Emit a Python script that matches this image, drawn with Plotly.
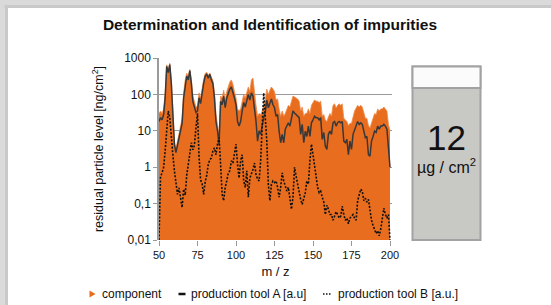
import plotly.graph_objects as go

# ---------------- data ----------------
MZ = list(range(50, 201))

COMPONENT = [
    30, 35, 30, 40, 110, 650, 480, 720, 260, 30,          # 50-59
    5, 3.2, 5, 8.5, 12, 22, 110, 250, 380, 320,           # 60-69
    480, 260, 90, 60, 45, 48, 110, 80, 170, 260,          # 70-79
    380, 400, 330, 390, 300, 240, 110, 28, 15, 7,         # 80-89
    90, 80, 130, 70, 120, 170, 220, 250, 190, 120,        # 90-99
    80, 40, 35, 40, 60, 100, 80, 120, 160, 120,           # 100-109
    250, 280, 100, 50, 25, 30, 28, 35, 50, 70,            # 110-119
    140, 100, 130, 160, 140, 120, 70, 75, 40, 25,         # 120-129
    35, 25, 30, 40, 50, 45, 65, 90, 85, 80,               # 130-139
    75, 65, 35, 45, 25, 30, 30, 40, 30, 50,               # 140-149
    60, 70, 65, 65, 60, 65, 25, 28, 20, 18,               # 150-159
    24, 30, 25, 50, 55, 42, 50, 55, 50, 55,               # 160-169
    22, 20, 18, 14, 16, 16, 24, 35, 42, 50,               # 170-179
    45, 50, 45, 30, 22, 22, 14, 12, 16, 22,               # 180-189
    30, 28, 40, 35, 40, 40, 45, 40, 35, 15,               # 190-199
    10,                                                   # 200
]

TOOL_A = [
    18, 23, 20, 28, 80, 590, 400, 660, 200, 20,           # 50-59
    4.3, 2.5, 4, 6.3, 9, 16, 80, 200, 320, 250,           # 60-69
    450, 200, 63, 45, 32, 35, 80, 56, 126, 200,           # 70-79
    320, 355, 280, 355, 250, 200, 80, 18, 10, 4.3,        # 80-89
    65, 52, 89, 43, 80, 110, 140, 160, 120, 80,           # 90-99
    52, 18, 13.5, 18, 35, 60, 45, 70, 100, 70,            # 100-109
    110, 90, 43, 18, 5.2, 10, 8, 15, 23, 32,              # 110-119
    70, 43, 60, 75, 52, 43, 25, 28, 9.8, 4.7,             # 120-129
    8, 4.7, 11, 13.5, 16.6, 13.5, 23, 35, 31, 28,         # 130-139
    25, 23, 8, 15, 4.7, 9.8, 7, 13.5, 7, 16.6,            # 140-149
    20, 25, 23, 23, 20, 23, 5.8, 9, 3.8, 3.1,             # 150-159
    8, 9.8, 8, 16.6, 18, 13.5, 16.6, 18, 16.6, 18,        # 160-169
    5.2, 4.7, 5.8, 2.2, 5.2, 3.1, 8, 11, 13.5, 18,        # 170-179
    15, 16.6, 15, 9.8, 6.5, 7, 2.2, 2.0, 5.2, 7,          # 180-189
    9.8, 9, 13.5, 11, 13.5, 13.5, 15, 13.5, 11, 3.4,      # 190-199
    1.0,                                                  # 200
]

TOOL_B = [
    0.01, 0.55, 0.7, 1.0, 2.8, 12, 35, 23, 6, 2.2,        # 50-59
    0.8, 0.4, 0.18, 0.27, 0.15, 0.078, 0.25, 0.17, 0.6, 1.2,  # 60-69
    2.5, 4.7, 3.0, 4.0, 12, 30, 2.0, 0.45, 0.35, 0.18,    # 70-79
    0.4, 0.6, 1.2, 1.6, 1.8, 2.8, 3.4, 2.2, 4.3, 6.5,     # 80-89
    1.2, 0.18, 0.12, 0.28, 0.42, 0.7, 0.8, 1.5, 1.3, 2.2, # 90-99
    4.3, 1.2, 0.5, 1.5, 2.2, 0.42, 0.28, 0.8, 0.15, 0.5,  # 100-109
    0.63, 0.87, 1.3, 0.63, 0.47, 0.42, 1.5, 18, 110, 23,  # 110-119
    5.2, 0.34, 0.12, 0.34, 0.42, 0.38, 0.42, 0.28, 0.15, 0.28,  # 120-129
    0.7, 0.42, 0.3, 0.22, 0.28, 0.12, 0.07, 0.15, 1.0, 0.57,    # 130-139
    0.34, 0.18, 0.13, 0.095, 0.15, 0.2, 0.42, 0.34, 1.5, 4.3,   # 140-149
    2.2, 1.0, 0.5, 0.28, 0.2, 0.22, 0.15, 0.11, 0.05, 0.09,     # 150-159
    0.07, 0.05, 0.05, 0.035, 0.045, 0.06, 0.05, 0.04, 0.045, 0.085,  # 160-169
    0.05, 0.035, 0.04, 0.028, 0.04, 0.045, 0.05, 0.04, 0.035, 0.12,  # 170-179
    0.18, 0.25, 0.22, 0.12, 0.14, 0.11, 0.13, 0.06, 0.035, 0.025,    # 180-189
    0.02, 0.015, 0.018, 0.013, 0.02, 0.04, 0.075, 0.05, 0.04, 0.05,  # 190-199
    0.01,                                                            # 200
]

BASELINE_X = [50, 200]
BASELINE_Y = [0.005, 0.005]

Y_TICKS = [0.01, 0.1, 1, 10, 100, 1000]
Y_TICK_TEXT = ["0,01", "0,1", "1", "10", "100", "1000"]
X_TICKS = [50, 75, 100, 125, 150, 175, 200]

TITLE = "Determination and Identification of impurities"
Y_TITLE = "residual particle level [ng/cm<sup>2</sup>]"
X_TITLE = "m / z"
LEGEND_LABELS = ["component", "production tool A [a.u]", "production tool B [a.u.]"]
TOTAL_VALUE = "12"
TOTAL_UNIT = "µg / cm<sup>2</sup>"

ORANGE = "#e96d1f"
FONT = "Liberation Sans, Arial, Helvetica, sans-serif"

# ---------------- figure ----------------
fig = go.Figure()
fig.add_trace(go.Scatter(x=BASELINE_X, y=BASELINE_Y, mode="lines",
                         line=dict(width=0, color=ORANGE), showlegend=False,
                         hoverinfo="skip"))
fig.add_trace(go.Scatter(x=MZ, y=COMPONENT, mode="lines", name=LEGEND_LABELS[0],
                         fill="tonexty", fillcolor=ORANGE,
                         line=dict(width=0.8, color="#ef8a4a"), showlegend=False))
fig.add_trace(go.Scatter(x=MZ, y=TOOL_A, mode="lines", name=LEGEND_LABELS[1],
                         line=dict(width=1.5, color="#383838"), showlegend=False))
fig.add_trace(go.Scatter(x=MZ, y=TOOL_B, mode="lines", name=LEGEND_LABELS[2],
                         line=dict(width=1.6, color="#111111", dash="2px,1.6px"),
                         showlegend=False))

L, R, T, B = 159, 159, 58, 65
W, H = 551, 305
PW, PH = W - L - R, H - T - B


def px(X):
    return (X - L) / PW


def py(Y):
    return (H - B - Y) / PH


shapes = []
# page frame (top and left edges)
shapes.append(dict(type="rect", xref="paper", yref="paper", x0=px(-2), x1=px(W + 2),
                   y0=py(5), y1=py(-2), fillcolor="#dadada", line=dict(width=0), layer="above"))
shapes.append(dict(type="rect", xref="paper", yref="paper", x0=px(-2), x1=px(4.5),
                   y0=py(H + 2), y1=py(-2), fillcolor="#dadada", line=dict(width=0), layer="above"))
shapes.append(dict(type="rect", xref="paper", yref="paper", x0=px(4.5), x1=px(W + 2),
                   y0=py(8), y1=py(5), fillcolor="#c9c9c9", line=dict(width=0), layer="above"))
shapes.append(dict(type="rect", xref="paper", yref="paper", x0=px(4.5), x1=px(8),
                   y0=py(H + 2), y1=py(5), fillcolor="#c9c9c9", line=dict(width=0), layer="above"))
# total box
shapes.append(dict(type="rect", xref="paper", yref="paper", x0=px(412.5), x1=px(480.5),
                   y0=py(240), y1=py(66.5), fillcolor="#c8c8c4",
                   line=dict(width=2, color="#a2a2a2"), layer="above"))
shapes.append(dict(type="rect", xref="paper", yref="paper", x0=px(412.5), x1=px(480.5),
                   y0=py(88), y1=py(66.5), fillcolor="#fbfbfb",
                   line=dict(width=2, color="#a2a2a2"), layer="above"))
# legend symbols
shapes.append(dict(type="path", xref="paper", yref="paper",
                   path=f"M {px(89.5)},{py(290.5)} L {px(95.5)},{py(294)} L {px(89.5)},{py(297.5)} Z",
                   fillcolor=ORANGE, line=dict(width=0), layer="above"))
shapes.append(dict(type="line", xref="paper", yref="paper", x0=px(178.5), x1=px(185.5),
                   y0=py(294), y1=py(294), line=dict(width=2.5, color="#111111"), layer="above"))
shapes.append(dict(type="line", xref="paper", yref="paper", x0=px(323), x1=px(332),
                   y0=py(294), y1=py(294), line=dict(width=1.5, color="#111111", dash="1.5px,1.5px"),
                   layer="above"))

annotations = [
    dict(text=TOTAL_VALUE, xref="paper", yref="paper", x=px(446.5), y=py(137), showarrow=False,
         font=dict(size=35, color="#111111", family=FONT), xanchor="center", yanchor="middle"),
    dict(text=TOTAL_UNIT, xref="paper", yref="paper", x=px(446.5), y=py(166), showarrow=False,
         font=dict(size=16, color="#111111", family=FONT), xanchor="center", yanchor="middle"),
    dict(text=LEGEND_LABELS[0], xref="paper", yref="paper", x=px(99.5), y=py(294), showarrow=False,
         font=dict(size=12, color="#111111", family=FONT), xanchor="left", yanchor="middle"),
    dict(text=LEGEND_LABELS[1], xref="paper", yref="paper", x=px(188.5), y=py(294), showarrow=False,
         font=dict(size=12, color="#111111", family=FONT), xanchor="left", yanchor="middle"),
    dict(text=LEGEND_LABELS[2], xref="paper", yref="paper", x=px(335.5), y=py(294), showarrow=False,
         font=dict(size=12, color="#111111", family=FONT), xanchor="left", yanchor="middle"),
]

fig.update_layout(
    width=W, height=H,
    margin=dict(l=L, r=R, t=T, b=B, pad=0),
    paper_bgcolor="white", plot_bgcolor="white",
    font=dict(family=FONT, color="#111111"),
    title=dict(text=f"<b>{TITLE}</b>", x=270 / W, xanchor="center",
               y=1 - 25 / H, yanchor="middle", font=dict(size=15.5, family=FONT, color="#111111")),
    showlegend=False,
    shapes=shapes,
    annotations=annotations,
)
fig.update_xaxes(range=[50, 201.3], tickvals=X_TICKS, showgrid=False, zeroline=False,
                 showline=False, ticks="outside", ticklen=5, tickcolor="#999999", tickwidth=1,
                 tickfont=dict(size=11, color="#111111"),
                 title=dict(text=X_TITLE, font=dict(size=13, color="#111111"), standoff=6))
fig.update_yaxes(type="log", range=[-2, 3], tickvals=Y_TICKS, ticktext=Y_TICK_TEXT,
                 showgrid=True, gridcolor="#9a9a9a", gridwidth=1, zeroline=False,
                 showline=True, linecolor="#9a9a9a", linewidth=1.5,
                 ticks="outside", ticklen=4, tickcolor="#9a9a9a",
                 tickfont=dict(size=12, color="#111111"),
                 title=dict(text=Y_TITLE, font=dict(size=12.5, color="#111111"), standoff=18))

fig.write_html("out.html", config={"displayModeBar": False},
               post_script="document.body.style.margin='0';document.body.style.overflow='hidden';")
